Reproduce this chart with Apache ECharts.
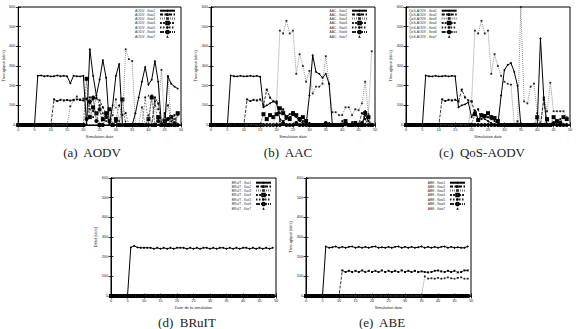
<!DOCTYPE html>
<html>
<head>
<meta charset="utf-8">
<script src="https://cdn.jsdelivr.net/npm/echarts@6/dist/echarts.min.js"></script>
<style>
html,body{margin:0;padding:0;background:#fff;}
#chart{width:576px;height:329px;}
</style>
</head>
<body>
<div id="chart"></div>
<script>
// ---------- DATA ----------
const dates = [0,1,2,3,4,5,6,7,8,9,10,11,12,13,14,15,16,17,18,19,20,21,22,23,24,25,26,27,28,29,30,31,32,33,34,35,36,37,38,39,40,41,42,43,44,45,46,47,48,49];
const xTicks = [0,5,10,15,20,25,30,35,40,45,50];
const yTicks = [0,100,200,300,400,500,600];
const idleFlow = [0,0,0,0,0,0,0,0,0,0,0,0,0,0,0,0,0,0,0,0,0,0,0,0,0,0,0,0,0,0,0,0,0,0,0,0,0,0,0,0,0,0,0,0,0,0,0,0,0,0];

// (a) AODV
const aodvFlow1 = [0,0,0,0,0,0,250,252,248,250,247,248,252,248,250,248,212,250,248,247,250,0,385,250,150,230,330,240,0,100,250,310,0,0,0,0,60,140,220,295,205,230,325,220,0,0,245,210,195,185];
const aodvFlow2 = [0,0,0,0,0,0,0,0,0,0,0,130,122,128,125,127,124,128,130,127,125,135,110,130,135,125,90,60,20,0,0,0,0,0,0,0,0,0,0,0,0,0,140,110,0,60,0,0,50,0];
const aodvFlow3 = [0,0,0,0,0,0,0,0,0,0,0,0,0,0,0,0,95,125,145,130,135,130,80,40,60,100,60,20,0,50,130,20,0,385,335,325,0,0,90,0,50,0,100,80,280,0,250,0,30,0];
const aodvFlow4 = [0,0,0,0,0,0,0,0,0,0,0,0,0,0,0,0,0,0,0,0,0,235,40,90,60,0,30,60,80,0,30,0,130,0,0,0,0,0,0,0,30,140,0,40,0,20,0,40,0,60];
const aodvFlow5 = [0,0,0,0,0,0,0,0,0,0,0,0,0,0,0,0,0,0,0,0,0,0,140,70,140,100,30,50,10,0,30,100,50,60,0,0,0,0,0,140,0,150,120,0,0,40,100,20,0,50];
const aodvFlow6 = [0,0,0,0,0,0,0,0,0,0,0,0,0,0,0,0,0,0,0,0,0,30,120,140,20,80,0,40,20,0,20,0,0,0,0,0,0,0,0,0,0,0,0,20,0,0,30,0,10,0];
const aodvFlow7 = [0,0,0,0,0,0,0,0,0,0,0,0,0,0,0,0,0,0,0,0,0,0,0,0,0,0,0,0,0,10,90,0,0,20,0,0,0,0,90,0,150,0,0,0,0,0,0,0,0,0];

// (b) AAC
const aacFlow1 = [0,0,0,0,0,0,252,248,247,250,247,248,250,247,250,245,90,100,110,120,110,30,20,30,40,50,40,20,10,0,150,355,270,260,240,260,210,0,0,0,0,0,0,0,0,0,0,50,20,0];
const aacFlow2 = [0,0,0,0,0,0,0,0,0,0,0,130,122,128,125,130,100,180,140,120,120,60,80,40,55,65,45,35,20,0,10,0,0,0,0,0,0,0,0,0,0,0,0,0,0,0,60,30,0,0];
const aacFlow3 = [0,0,0,0,0,0,0,0,0,0,0,0,0,0,0,0,0,0,0,0,115,480,465,530,465,480,260,360,300,220,275,160,195,195,210,350,210,65,65,50,50,90,90,50,80,75,110,220,55,375];
const aacFlow4 = [0,0,0,0,0,0,0,0,0,0,0,0,0,0,0,0,55,30,50,40,55,85,60,40,30,60,50,30,40,20,0,0,0,0,0,0,0,0,0,0,0,20,0,0,10,0,0,60,40,0];
const aacFlow5 = [0,0,0,0,0,0,0,0,0,0,0,0,0,0,0,0,0,0,0,0,0,20,0,0,0,0,0,0,0,0,0,0,0,0,0,0,10,0,0,0,20,0,0,15,0,0,0,70,20,0];
const aacFlow6 = [0,0,0,0,0,0,0,0,0,0,0,0,0,0,0,0,0,0,0,0,0,0,10,0,0,0,10,0,0,0,0,0,0,0,0,10,0,0,0,0,0,10,0,0,0,0,10,0,0,0];
const aacFlow7 = [0,0,0,0,0,0,0,0,0,0,0,0,0,0,0,0,0,0,0,0,0,0,0,0,0,0,0,0,0,0,0,0,0,0,0,0,0,0,0,0,0,0,0,0,0,0,0,10,0,0];

// (c) QoS-AODV
const qosFlow1 = [0,0,0,0,0,0,252,248,247,250,247,248,250,247,250,248,90,100,105,115,40,75,30,45,30,20,10,0,0,150,280,305,315,270,200,0,0,0,0,0,0,440,140,0,0,0,0,0,0,0];
const qosFlow2 = [0,0,0,0,0,0,0,0,0,0,0,130,122,128,125,128,120,180,140,125,120,60,80,30,50,40,30,20,0,0,0,0,0,0,0,0,0,0,0,0,0,0,130,0,0,0,0,0,0,0];
const qosFlow3 = [0,0,0,0,0,0,0,0,0,0,0,0,0,0,0,0,0,0,0,0,120,480,465,530,465,480,260,360,300,250,220,210,205,0,0,600,120,110,195,210,60,0,140,70,215,70,70,70,70,40];
const qosFlow4 = [0,0,0,0,0,0,0,0,0,0,0,0,0,0,0,0,0,0,0,0,0,55,25,50,45,60,40,35,20,0,0,0,0,0,0,0,0,0,0,0,40,0,0,30,0,40,20,10,40,30];
const qosFlow5 = [0,0,0,0,0,0,0,0,0,0,0,0,0,0,0,0,0,0,0,0,0,0,0,0,0,0,0,0,0,0,0,0,0,0,20,0,0,0,0,0,0,0,0,0,0,0,0,30,0,0];
const qosFlow6 = [0,0,0,0,0,0,0,0,0,0,0,0,0,0,0,0,0,0,0,0,0,0,0,0,0,0,0,0,0,0,0,0,0,0,0,0,0,0,0,0,0,0,0,0,0,10,0,0,0,0];
const qosFlow7 = [0,0,0,0,0,0,0,0,0,0,0,0,0,0,0,0,0,0,0,0,0,0,0,0,0,0,0,0,0,0,0,0,0,0,0,0,0,0,0,0,0,0,0,0,0,0,0,0,0,0];

// (d) BRuIT
const bruitFlow1 = [0,0,0,0,0,0,247,255,247,245,245,245,245,240,245,240,245,240,245,240,245,245,245,240,245,240,245,240,245,245,240,245,240,245,245,240,245,240,245,240,245,245,240,245,240,245,240,245,240,245];

// (e) ABE
const abeFlow1 = [0,0,0,0,0,0,252,245,248,252,245,250,245,250,252,245,250,245,250,245,250,252,245,248,245,250,245,250,252,245,250,245,250,245,248,252,245,250,245,250,245,250,252,245,250,245,248,245,245,252];
const abeFlow2 = [0,0,0,0,0,0,0,0,0,0,0,130,122,128,122,128,122,130,122,128,122,128,122,130,122,128,122,128,122,130,122,128,122,128,122,125,122,120,122,128,130,125,122,128,122,128,120,122,130,130];
const abeFlow3 = [0,0,0,0,0,0,0,0,0,0,0,0,0,0,0,0,0,0,0,0,0,0,0,0,0,0,0,0,0,0,0,0,0,0,0,0,100,88,90,88,92,88,90,95,90,88,92,95,88,88];

const captions = ['(a)  AODV','(b)  AAC','(c)  QoS-AODV','(d)  BRuIT','(e)  ABE'];

// ---------- LAYOUT ----------
const panels = [
  {prefix:'AODV - flow', flows:[aodvFlow1,aodvFlow2,aodvFlow3,aodvFlow4,aodvFlow5,aodvFlow6,aodvFlow7], grid:{left:15,top:7,width:166,height:118}, xName:'Simulation date', yName:'Throughput (kb/s)', legend:{right:400,top:9}, cap:{x:92,y:152}},
  {prefix:'AAC - flow', flows:[aacFlow1,aacFlow2,aacFlow3,aacFlow4,aacFlow5,aacFlow6,aacFlow7], grid:{left:211,top:7,width:164,height:118}, xName:'Simulation date', yName:'Throughput (kb/s)', legend:{right:208,top:9}, cap:{x:288,y:152}},
  {prefix:'QoS-AODV - flow', flows:[qosFlow1,qosFlow2,qosFlow3,qosFlow4,qosFlow5,qosFlow6,qosFlow7], grid:{left:406,top:7,width:164,height:118}, xName:'Simulation date', yName:'Throughput (kb/s)', legend:{left:409,top:9}, cap:{x:482,y:152}},
  {prefix:'BRuIT - flux', flows:[bruitFlow1,idleFlow,idleFlow,idleFlow,idleFlow,idleFlow,idleFlow], grid:{left:111,top:178,width:165,height:118}, xName:'Date de la simulation', yName:'Débit (kb/s)', legend:{right:304,top:181}, cap:{x:187,y:322}},
  {prefix:'ABE - flow', flows:[abeFlow1,abeFlow2,abeFlow3,idleFlow,idleFlow,idleFlow,idleFlow], grid:{left:306,top:178,width:165,height:118}, xName:'Simulation date', yName:'Throughput (kb/s)', legend:{right:110,top:181}, cap:{x:382,y:322}}
];

const flowStyles = [
  {line:{color:'#000',width:1,type:'solid'}, symbol:'diamond', size:2.4, item:{color:'#000'}},
  {line:{color:'#000',width:0.8,type:[3,1.5]}, symbol:'rect', size:2, item:{color:'#000'}},
  {line:{color:'#777',width:0.8,type:[1,1]}, symbol:'rect', size:1.8, item:{color:'#222'}},
  {line:{color:'#222',width:0.6,type:[2,1]}, symbol:'emptyRect', size:2, item:{color:'#000',borderColor:'#000',borderWidth:0.6}},
  {line:{color:'#222',width:0.6,type:[1.5,1.5]}, symbol:'circle', size:2, item:{color:'#000'}},
  {line:{color:'#222',width:0.6,type:[4,1,1,1]}, symbol:'emptyCircle', size:2, item:{color:'#000',borderColor:'#000',borderWidth:0.6}},
  {line:{color:'#000',width:0.6,type:'solid',opacity:0}, symbol:'triangle', size:1.8, item:{color:'#000'}}
];

const font = 'Liberation Sans, Arial, sans-serif';
const grids=[], xAxes=[], yAxes=[], series=[], legends=[], graphics=[];

panels.forEach((p, gi) => {
  grids.push(Object.assign({show:true, borderColor:'#000', borderWidth:1, backgroundColor:'transparent', containLabel:false}, p.grid));
  const axBase = {min:0, axisLine:{show:true, lineStyle:{color:'#000',width:1}}, splitLine:{show:false},
    axisTick:{show:true, inside:true, length:2.5, lineStyle:{color:'#000',width:0.8}}};
  xAxes.push(Object.assign({}, axBase, {type:'value', gridIndex:gi, max:50, interval:5, position:'bottom',
    axisLabel:{fontSize:3.8, color:'#222', margin:3, fontFamily:font, formatter:v=>xTicks.includes(v)?String(v):''},
    name:p.xName, nameLocation:'middle', nameGap:9, nameTextStyle:{fontSize:4, color:'#222', fontFamily:font}}));
  xAxes.push(Object.assign({}, axBase, {type:'value', gridIndex:gi, max:50, interval:5, position:'top', axisLabel:{show:false}}));
  yAxes.push(Object.assign({}, axBase, {type:'value', gridIndex:gi, max:600, interval:100, position:'left',
    axisLabel:{fontSize:3.8, color:'#222', margin:3, fontFamily:font, formatter:v=>yTicks.includes(v)?String(v):''},
    name:p.yName, nameLocation:'middle', nameGap:11, nameRotate:90, nameTextStyle:{fontSize:4, color:'#222', fontFamily:font}}));
  yAxes.push(Object.assign({}, axBase, {type:'value', gridIndex:gi, max:600, interval:100, position:'right', axisLabel:{show:false}}));

  const names = [];
  p.flows.forEach((vals, fi) => {
    const st = flowStyles[fi];
    const name = p.prefix + (fi+1);
    names.push(name);
    series.push({
      type:'line', name:name, xAxisIndex:gi*2, yAxisIndex:gi*2,
      data: dates.map((d,i)=>[d, vals[i]]),
      symbol: st.symbol, symbolSize: st.size, showSymbol:true,
      lineStyle: st.line, itemStyle: st.item, color: st.item.color,
      emphasis:{disabled:true}, silent:true, z: 10 - fi
    });
  });
  legends.push(Object.assign({
    data:names, orient:'vertical', align:'right', itemWidth:15, itemHeight:3.2, itemGap:0.5,
    padding:0, selectedMode:false,
    textStyle:{fontSize:3.3, color:'#333', fontFamily:font, lineHeight:3.4}
  }, p.legend));
  graphics.push({type:'text', x:p.cap.x, y:p.cap.y, silent:true,
    style:{text:captions[gi], textAlign:'center', textVerticalAlign:'middle', fill:'#222', font:'13px "Liberation Serif", "DejaVu Serif", serif'}});
});

const chart = echarts.init(document.getElementById('chart'), null, {renderer:'svg'});
chart.setOption({
  animation:false,
  backgroundColor:'#fff',
  grid:grids, xAxis:xAxes, yAxis:yAxes, legend:legends, series:series, graphic:graphics
});
</script>
</body>
</html>
